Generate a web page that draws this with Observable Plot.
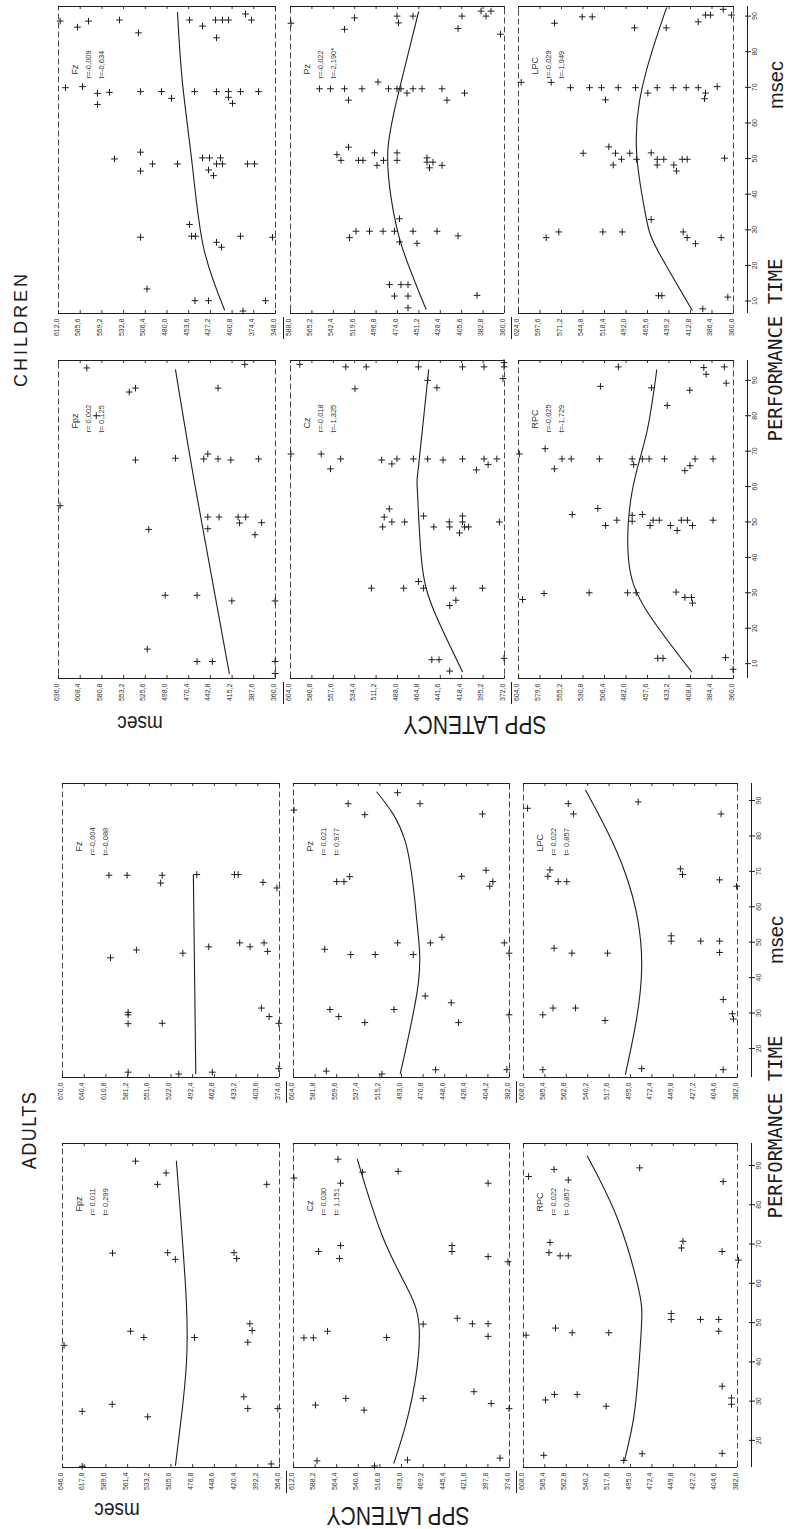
<!DOCTYPE html>
<html><head><meta charset="utf-8">
<script src="https://cdn.jsdelivr.net/npm/d3@7"></script>
<script src="https://cdn.jsdelivr.net/npm/@observablehq/plot@0.6"></script>
<style>
body{margin:0;background:#fff;}
#page{position:relative;width:789px;height:1529px;overflow:hidden;background:#fff;color:#1c1c1c;}
.panel{position:absolute;}
.lbl{position:absolute;white-space:nowrap;line-height:1;transform-origin:50% 50%;}
</style></head><body><div id="page"></div>
<script>
// ---------- DATA (performance time, SPP latency msec) ----------
const childPerfTicks = [10,20,30,40,50,60,70,80,90];
const adultPerfTicks = [20,30,40,50,60,70,80,90];

const cFzTicks  = [612.0,585.6,559.2,532.8,506.4,480.0,453.6,427.2,400.8,374.4,348.0];
const cPzTicks  = [588.0,565.2,542.4,519.6,496.8,474.0,451.2,428.4,405.6,382.8,360.0];
const cLPCTicks = [624.0,597.6,571.2,544.8,518.4,492.0,465.6,439.2,412.8,386.4,360.0];
const cFpzTicks = [636.0,608.4,580.8,553.2,525.6,498.0,470.4,442.8,415.2,387.6,360.0];
const cCzTicks  = [604.0,580.8,557.6,534.4,511.2,488.0,464.8,441.6,418.4,395.2,372.0];
const cRPCTicks = [604.0,579.6,555.2,530.8,506.4,482.0,457.6,433.2,408.8,384.4,360.0];
const aFzTicks  = [670.0,640.4,610.8,581.2,551.6,522.0,492.4,462.8,433.2,403.6,374.0];
const aPzTicks  = [604.0,581.8,559.6,537.4,515.2,493.0,470.8,448.6,426.4,404.2,382.0];
const aLPCTicks = [608.0,585.4,562.8,540.2,517.6,495.0,472.4,449.8,427.2,404.6,382.0];
const aFpzTicks = [646.0,617.8,589.6,561.4,533.2,505.0,476.8,448.6,420.4,392.2,364.0];
const aCzTicks  = [612.0,588.2,564.4,540.6,516.8,493.0,469.2,445.4,421.6,397.8,374.0];
const aRPCTicks = [608.0,585.4,562.8,540.2,517.6,495.0,472.4,449.8,427.2,404.6,382.0];

const cFzStat  = ["Fz",  "r=-0,009", "t=-0,634"];
const cPzStat  = ["Pz",  "r=-0,022", "t=-2,190*"];
const cLPCStat = ["LPC", "r=-0,029", "t=-1,949"];
const cFpzStat = ["Fpz", "r= 0,002", "t= 0,125"];
const cCzStat  = ["Cz",  "r=-0,018", "t=-1,325"];
const cRPCStat = ["RPC", "r=-0,025", "t=-1,729"];
const aFzStat  = ["Fz",  "r=-0,004", "t=-0,088"];
const aPzStat  = ["Pz",  "r= 0,021", "t= 0,977"];
const aLPCStat = ["LPC", "r= 0,022", "t= 0,857"];
const aFpzStat = ["Fpz", "r= 0,011", "t= 0,299"];
const aCzStat  = ["Cz",  "r= 0,030", "t= 1,151"];
const aRPCStat = ["RPC", "r= 0,022", "t= 0,857"];

// points: [performance time, latency]
const cFzPts = [[88.6,610],[86.9,588.9],[88.6,575.5],[88.9,537.8],[85.3,514.7],[88.9,452.6],[87.2,436.8],[88.9,421],[88.9,412.5],[88.9,405.2],[90.6,384.5],[88.9,377.2],[83.9,419.8],
[69.9,603.5],[70.2,582.8],[68.3,564.6],[65.2,564.6],[68.6,550],[68.8,512.2],[68.8,486.7],[66.9,474.5],[68.8,446.5],[68.8,419.8],[68.8,405.2],[67.2,405.2],[65.5,400.3],[68.8,390.6],[68.8,368.7],
[49.9,543.9],[51.8,512.2],[46.5,512.2],[48.5,497.6],[48.5,467.2],[50.2,436.8],[50.2,428.3],[50.2,414.9],[46.8,429.5],[45.2,423.4],[48.5,419.8],[48.5,412.5],[48.5,382.1],[48.5,373.5],
[31.5,452.6],[28.2,450.2],[28.2,445.3],[27.9,512.2],[28.2,390.6],[26.5,419.8],[25.1,413.7],[27.9,351.6],
[13.4,504.3],[10.1,446],[10.1,429.5],[7.2,387.5],[10.1,360.2]];
const cFzCurve = [[91,467.2],[71.1,461.1],[47.7,449],[25.1,435.6],[7.5,410]];

const cPzPts = [[88,587.5],[86.3,530.5],[89.5,519.8],[90,474.5],[88.1,472.9],[90,457.5],[86.5,409.5],[90,405.3],[91.4,385],[90,379.7],[91.4,374.4],[84.9,364.3],
[69.6,557.1],[69.6,545.4],[69.6,530.5],[66.4,526.2],[69.6,511.8],[71.5,494.8],[69.6,483.6],[69.6,474.5],[69.6,470.3],[68.4,463.9],[69.6,457.5],[69.6,447.9],[69.6,426.6],[66.4,421.3],[68.4,402.6],
[51.1,538.5],[49.5,534.2],[53.2,526.2],[49.5,515.6],[49.5,510.8],[51.6,498.5],[48.1,495.8],[49.5,488.9],[51.6,474.5],[49.5,474.5],[50.2,442.6],[49,442.6],[47.4,439.9],[49,436.2],[48.1,426.6],
[27.8,525.1],[29.6,518.2],[29.6,503.8],[29.6,489.4],[29.6,477.2],[26.6,471.9],[29.6,457.5],[26.2,453.2],[29.6,431.9],[28.3,409.5],[33.1,471.9],
[14.6,482.5],[14.6,470.3],[14.6,462.8],[11.4,477.2],[11.4,462.8],[8.1,462.8],[11.6,389.3]];
const cPzCurve = [[91.2,451.6],[69.6,471.9],[53,484.1],[39.1,480.9],[25.2,469.2],[7.7,443.6]];

const cLPCPts = [[89.8,545.8],[89.8,533.5],[88,579.8],[86.7,481.6],[86.7,442.6],[88.4,403.3],[90.3,394.4],[90.3,388.2],[91.9,372.6],[90.3,362.5],
[71.4,620.7],[71.4,583.8],[69.9,560.1],[69.9,536.8],[69.9,522.1],[66.5,517.2],[69.9,501.6],[69.9,480.3],[68.4,465.2],[69.9,453.7],[69.9,434],[69.9,418.1],[69.9,403.3],[68.4,394.4],[66.8,395.6],[70.2,380],
[51.5,544.6],[53.3,513.1],[51.5,504.9],[48.2,507.7],[49.8,497.5],[51.5,487.3],[49.8,479.1],[51.6,461.1],[49.8,453.7],[49.8,445.6],[48.2,453.7],[48.2,433.3],[46.5,430],[49.8,423],[49.8,416.9],[50.1,371],
[27.8,590],[29.4,574.5],[29.4,520.5],[29.4,496.7],[32.9,461.1],[29.4,421.8],[27.8,416.9],[26.1,406.7],[27.8,375.1],
[11.5,452],[11.5,448],[7.8,397.7],[11.1,367]];
const cLPCCurve = [[92.3,442.3],[80.3,459.8],[66.3,475.3],[50.5,478.6],[33.8,467.6],[24.5,453.7],[7.4,410.7]];

const cFpzPts = [[93.5,600],[86.7,546],[87.8,538.1],[87.8,433.1],[94.5,399.1],[80,588],
[67.5,538.1],[68,487.2],[67.8,451.3],[69.2,446.1],[67.8,433.1],[67.5,416.8],[67.8,381.5],
[54.6,634],[47.9,521.2],[51.4,446.1],[51.4,431.8],[48.1,446.1],[51.4,407.6],[51.4,397.8],[49.7,405.7],[49.8,377.6],[46.4,386.1],
[29.3,500.3],[29.3,459.8],[27.7,415.5],[27.7,360.5],
[14.1,523.1],[10.6,459.8],[10.6,440.3],[10.6,360.5],[7.2,360.5]];
const cFpzCurve = [[93,487.2],[58.7,461.1],[7.2,418.7]];

const cCzPts = [[94.5,594],[93.8,544.1],[87.6,534.1],[93.8,521.9],[93.8,465.3],[90,455.3],[87.9,445.3],[93.8,417.5],[93.8,394.2],[95,372.5],[93.8,372.5],[90.5,373.7],
[69.2,603.5],[69.2,570.7],[65,560.7],[67.8,549.6],[67.5,505.2],[66.4,494.1],[67.8,488.6],[67.8,470.8],[67.8,455.3],[67.5,438.6],[67.8,417.5],[64.7,402.5],[67.8,394.2],[66.2,389.8],[67.8,380.3],
[48.6,504.1],[51.4,502.4],[53.7,496.9],[50,494.1],[50,480.2],[51.7,459.7],[48.6,448.6],[50,431.9],[48.6,431.4],[50,417.5],[51.7,417.5],[48.6,415.3],[46.9,420.8],[48.6,410.9],[50,377.6],
[31.3,516.3],[31.3,481.3],[33.2,465.3],[31.3,459.7],[31.3,427.5],[27.9,424.7],[26.4,431.4],[31.3,395.9],
[11.1,450.8],[11.1,443],[7.9,431.4],[11.5,372.5]];
const cCzCurve = [[93,454.2],[65.5,465.3],[58.7,466.4],[39.4,462],[25,448.6],[7.7,417.5]];

const cRPCPts = [[88.3,511],[93.8,490.7],[87.9,453],[82.9,435.2],[87.2,409.6],[93.6,393.7],[91.7,391],[89.2,368.3],[93.8,370.4],
[69.2,603],[70.7,573.8],[65,563.3],[67.8,554.6],[67.8,544.2],[67.8,512.2],[67.8,475],[66.2,473.3],[67.8,463.4],[67.8,455.8],[67.8,438.4],[64.5,415.2],[65.9,409.4],[67.8,403.6],[67.8,383.2],
[52.1,543],[53.8,514],[49,505.2],[50.5,492.4],[51.9,475],[50.2,475],[52.1,463.4],[49,454.7],[50.5,451.2],[50.5,444.2],[49,431.4],[47.6,423.9],[50.5,419.2],[50.5,412.3],[49,406.5],[50.5,383.2],
[28.1,599.4],[29.8,575],[30,523.8],[30,480.2],[30,470.4],[30.2,425.1],[28.7,415.2],[28.7,407.6],[27.1,406.5],
[11.5,446],[11.5,440],[11.7,369],[8.4,360.5]];
const cRPCCurve = [[93,447.1],[74.9,458.8],[58.7,475],[39.4,479.1],[25,458.8],[7.7,407.6]];

const aFzPts = [[68.9,606.6],[68.9,581.9],[68.9,534],[66.7,536.1],[69.1,486.8],[69.1,435.3],[69.1,430.4],[66.9,396.5],[65.3,377.5],
[45.6,604.5],[47.8,569.2],[46.9,505.8],[48.7,470.5],[49.8,428.3],[48.7,414.2],[49.8,395.1],[47.4,390.2],
[29.5,580.5],[30.2,580.5],[27,580.5],[27.1,534],[13.3,580.5],[12.8,511.4],[13.3,465.6],[31.4,398.7],[29,388.1],[27.1,375],[14.3,375]];
const aFzCurve = [[69,491.5],[12.9,488.2]];

const aPzPts = [[87.3,603.5],[89.1,547.8],[86,530.7],[92.2,497],[89.1,474],[86.2,409.8],
[67.1,559.6],[67.1,552.1],[68.5,546.2],[68.6,431.2],[70.3,406.1],[65.8,402.3],[67.1,399.1],
[48,571.9],[46.5,545.2],[46.5,520],[49.8,497],[46.5,480.9],[49.8,463.3],[51.4,451.5],[49.8,387.3],[46.9,382.5],
[31,566.5],[29,557.5],[27.3,530.7],[31,500.7],[34.8,468.6],[32.9,441.9],[27.3,434.4],[14,457.9],[12.8,513.1],[13.6,570.3],[14,384.7],[29.5,382.5]];
const aPzCurve = [[92.4,518.4],[78.3,489],[55.9,477.2],[38.6,475.6],[12.8,494.3]];

const aLPCPts = [[87.8,603.7],[89.1,560.7],[86.2,555.3],[89.6,486.9],[86.2,399.3],
[68.6,582.2],[70.4,580],[67.1,571.4],[67.1,562.3],[70.7,442.3],[69.1,440.1],[67.6,400.9],[65.8,383],
[48.3,575.7],[46.9,556.9],[46.9,519.2],[51.8,452],[50.3,452],[50.3,420.8],[50.3,400.9],[47.1,400.9],
[29.5,587.6],[31.4,576.8],[31.4,553.1],[27.9,521.9],[33.8,397.1],[29.8,387.4],[28.3,386.3],[14.3,483.2],[14,587.6],[14,397.1]];
const aLPCCurve = [[92.9,542.4],[69.4,500.4],[42.4,483.2],[12.7,500.4]];

const aFpzPts = [[91.1,551.1],[85.2,522.6],[88.1,511.3],[85.2,380.6],
[67.7,581],[67.8,509.3],[66.1,499.4],[67.8,423.1],[66.3,419.7],
[47.8,557.6],[46.2,540.3],[46.2,474.5],[45,405.2],[48,399.5],[49.7,402.6],[44.2,644],
[27.4,620.4],[29.2,581.4],[26,535.2],[13.4,620.4],[31.1,410.4],[28.1,405.2],[14,374.8],[28.1,366.2]];
const aFpzCurve = [[91.1,498],[55.9,485.2],[38.8,485.2],[27.7,490.5],[13.6,499.2]];

const aCzPts = [[86.8,611.5],[91.6,563],[85.5,560.1],[88.3,535.9],[88.5,496.7],[85.5,397.6],
[68.1,584.3],[66.3,561.3],[69.6,560.1],[68.1,437.4],[69.6,437.4],[66.8,397.6],[65.5,375.7],
[46.1,600.5],[46.1,590.1],[47.8,574.5],[46.2,509.4],[49.6,469.1],[51.1,431.6],[49.7,414.9],[49.7,397.6],[46.5,397.6],
[29,587.8],[30.7,554.4],[27.7,534.2],[30.7,469.1],[32.4,413.2],[29.4,394.2],[28.1,374.5],
[14.8,586.1],[13.5,522.7],[15,486.4],[15.5,384.4]];
const aCzCurve = [[91.6,541.7],[72,514],[58.1,485.2],[49.4,473.7],[37.2,476.6],[24.2,488.1],[14.2,501.4]];

const aRPCPts = [[87.2,602.6],[89,575.7],[86.3,560.7],[89.4,485.3],[85.9,397.1],
[67.8,581.1],[70.4,580],[67,569.3],[67,560.7],[69,441.2],[70.7,439.6],[68.1,398.2],[65.9,381],
[48.6,574.2],[47.4,556.6],[47.4,517.9],[52.3,452],[50.8,452],[50.8,421.1],[50.8,401.8],[47.8,401.8],[46.8,605.3],
[30.3,584.8],[31.7,575.3],[31.7,551.3],[28.7,520.7],[33.8,398.2],[30.8,388.4],[29.2,388.4],
[16.2,586.6],[14.9,502.1],[16.6,482.7],[16.7,398.2]];
const aRPCCurve = [[92.4,540.7],[76.3,508.5],[59,486.9],[50.3,483.2],[38.8,486.2],[26,491.5],[14.9,501.3]];

const pageTexts = ["CHILDREN","ADULTS","PERFORMANCE TIME","msec","SPP LATENCY"];

// ---------- LAYOUT ----------
const ink = "#1e1e1e";
const rowTop = [6, 360, 783, 1143];
const rowH   = [307, 318, 294, 324];
const rowDom = [[6.5,92.7],[5.8,95.6],[11.8,94.8],[13.1,95.6]];
const colX = [[58,290,518],[58,290,518],[62,293,523],[62,293,523]];
const colW = [[217,214,215],[217,214,215],[217,216,214],[217,216,214]];

const panels = [
  {row:0,col:0,pts:cFzPts,curve:cFzCurve,ticks:cFzTicks,stat:cFzStat},
  {row:0,col:1,pts:cPzPts,curve:cPzCurve,ticks:cPzTicks,stat:cPzStat},
  {row:0,col:2,pts:cLPCPts,curve:cLPCCurve,ticks:cLPCTicks,stat:cLPCStat,perf:childPerfTicks},
  {row:1,col:0,pts:cFpzPts,curve:cFpzCurve,ticks:cFpzTicks,stat:cFpzStat},
  {row:1,col:1,pts:cCzPts,curve:cCzCurve,ticks:cCzTicks,stat:cCzStat},
  {row:1,col:2,pts:cRPCPts,curve:cRPCCurve,ticks:cRPCTicks,stat:cRPCStat,perf:childPerfTicks},
  {row:2,col:0,pts:aFzPts,curve:aFzCurve,ticks:aFzTicks,stat:aFzStat,linear:true},
  {row:2,col:1,pts:aPzPts,curve:aPzCurve,ticks:aPzTicks,stat:aPzStat},
  {row:2,col:2,pts:aLPCPts,curve:aLPCCurve,ticks:aLPCTicks,stat:aLPCStat,perf:adultPerfTicks},
  {row:3,col:0,pts:aFpzPts,curve:aFpzCurve,ticks:aFpzTicks,stat:aFpzStat},
  {row:3,col:1,pts:aCzPts,curve:aCzCurve,ticks:aCzTicks,stat:aCzStat},
  {row:3,col:2,pts:aRPCPts,curve:aRPCCurve,ticks:aRPCTicks,stat:aRPCStat,perf:adultPerfTicks}
];

const page = document.getElementById("page");
const fmt = d => d.toFixed(1).replace(".", ",");

for (const p of panels) {
  const L = colX[p.row][p.col], T = rowTop[p.row], W = colW[p.row][p.col], H = rowH[p.row];
  const mL = 10, mT = 4, mB = 40, mR = p.perf ? 46 : 6;
  const ydom = rowDom[p.row];
  const xdom = [p.ticks[0], p.ticks[p.ticks.length - 1]];
  const marks = [
    Plot.frame({stroke: "#333", strokeDasharray: "6,3", strokeWidth: 0.9}),
    Plot.ruleY([ydom[0], ydom[1]], {stroke: ink, strokeWidth: 1}),
    Plot.tickX(p.ticks, {x: d => d, insetTop: H - 3, stroke: ink, strokeWidth: 0.9}),
    Plot.tickX(p.ticks, {x: d => d, insetBottom: H - 3, stroke: ink, strokeWidth: 0.9}),
    Plot.text(p.ticks, {x: d => d, frameAnchor: "bottom", dy: 5, rotate: -90, textAnchor: "end", text: fmt, fontSize: 7, fill: "#333"}),
    Plot.line(p.curve, {x: d => d[1], y: d => d[0], curve: p.linear ? "linear" : "natural", stroke: ink, strokeWidth: 1.1}),
    Plot.dot(p.pts, {x: d => d[1], y: d => d[0], symbol: "plus", r: 2.3, stroke: ink, strokeWidth: 1}),
    Plot.text([p.stat[0]], {frameAnchor: "top-left", dx: 13, dy: 68, rotate: -90, textAnchor: "start", fontSize: 9, fill: "#333"}),
    Plot.text([p.stat[1]], {frameAnchor: "top-left", dx: 27, dy: 72, rotate: -90, textAnchor: "start", fontSize: 7.5, fill: "#333"}),
    Plot.text([p.stat[2]], {frameAnchor: "top-left", dx: 40, dy: 72, rotate: -90, textAnchor: "start", fontSize: 7.5, fill: "#333"})
  ];
  if (p.col > 0) {
    // short separator between neighbouring panels' tick labels
    marks.push(Plot.ruleX([xdom[0]], {dx: -7, insetTop: H + 4, insetBottom: -26, stroke: ink, strokeWidth: 1}));
  }
  if (p.perf) {
    marks.push(Plot.ruleX([xdom[1]], {y1: ydom[0], y2: ydom[1], dx: 14, stroke: ink, strokeWidth: 1}));
    marks.push(Plot.axisY(p.perf, {anchor: "right", tickSize: 6, dx: 11, tickPadding: 2, tickRotate: -90,
      textAnchor: "middle", lineAnchor: "top", fontSize: 7, label: null, tickFormat: d => String(d), stroke: ink, fill: "#333"}));
  }
  const svg = Plot.plot({
    width: W + mL + mR, height: H + mT + mB,
    marginLeft: mL, marginRight: mR, marginTop: mT, marginBottom: mB,
    x: {domain: xdom, axis: null},
    y: p.perf ? {domain: ydom} : {domain: ydom, axis: null},
    style: {background: "transparent", fontFamily: "'Liberation Sans', Arial, sans-serif", overflow: "visible", color: ink},
    marks
  });
  const div = document.createElement("div");
  div.className = "panel";
  div.style.left = (L - mL) + "px";
  div.style.top = (T - mT) + "px";
  div.appendChild(svg);
  page.appendChild(div);
}

// page labels (rotated, as in the scanned figure)
const labelSpecs = [
  {t: 0, cx: 21, cy: 329, rot: -90, size: 18, ls: 3, sx: 1, sy: 1},
  {t: 1, cx: 29, cy: 1130, rot: -90, size: 18, ls: 1.5, sx: 1, sy: 1.1},
  {t: 2, cx: 775, cy: 350, rot: -90, size: 19, ls: 0, sx: 1, sy: 1.05, mono: true},
  {t: 2, cx: 775, cy: 1127, rot: -90, size: 19, ls: 0, sx: 1, sy: 1.05, mono: true},
  {t: 3, cx: 776, cy: 85, rot: -90, size: 20, ls: 0, sx: 1, sy: 1},
  {t: 3, cx: 776, cy: 940, rot: -90, size: 20, ls: 0, sx: 1, sy: 1},
  {t: 3, cx: 140, cy: 724, rot: 180, size: 19, ls: 0, sx: 1, sy: 1.2},
  {t: 3, cx: 117, cy: 1511, rot: 180, size: 19, ls: 0, sx: 1, sy: 1.2},
  {t: 4, cx: 475, cy: 725, rot: 180, size: 21, ls: 0, sx: 1, sy: 1.25},
  {t: 4, cx: 398, cy: 1516, rot: 180, size: 21, ls: 0, sx: 1, sy: 1.2}
];
for (const s of labelSpecs) {
  const el = document.createElement("div");
  el.className = "lbl";
  el.textContent = pageTexts[s.t];
  el.style.left = s.cx + "px";
  el.style.top = s.cy + "px";
  el.style.fontSize = s.size + "px";
  el.style.letterSpacing = s.ls + "px";
  el.style.fontFamily = s.mono ? "'DejaVu Sans Mono', monospace" : "'Liberation Sans', Arial, sans-serif";
  el.style.transform = `translate(-50%,-50%) rotate(${s.rot}deg) scale(${s.sx},${s.sy})`;
  page.appendChild(el);
}
</script></body></html>
